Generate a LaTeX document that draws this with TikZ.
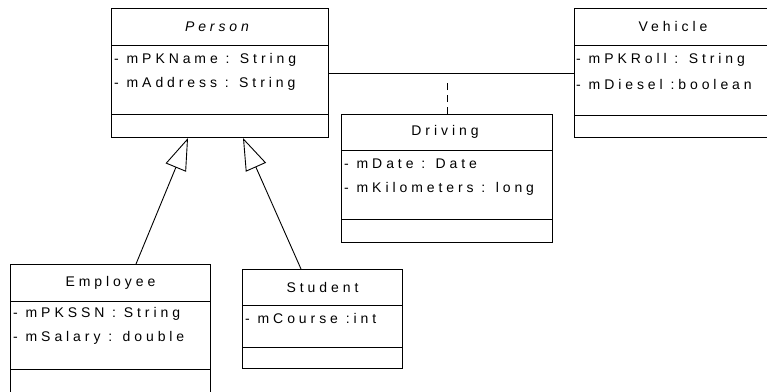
\documentclass[tikz,border=0pt]{standalone}
\usepackage{fontspec}
\usetikzlibrary{calc,arrows.meta}
\newfontfamily\umlfont[LetterSpace=28]{Liberation Sans}

\tikzset{
  classbox/.style={draw, line width=1pt, inner sep=0pt, anchor=north west},
  sepline/.style={line width=1pt},
  ctitle/.style={font=\umlfont\fontsize{14}{16}\selectfont, anchor=center, inner sep=0pt},
  attr/.style={font=\umlfont\fontsize{14}{16}\selectfont, anchor=west, inner sep=0pt},
  assoc/.style={line width=1pt},
  assoclink/.style={line width=1pt, dash pattern=on 7pt off 5pt on 7pt off 5pt on 7pt off 12pt},
  generalize/.style={line width=0.9pt, -{Triangle[open, length=32pt, width=22pt, line width=0.9pt]}}
}

\begin{document}
\begin{tikzpicture}[x=1pt, y=-1pt]
  \useasboundingbox (0,0) rectangle (767,391);
  \clip (0,0) rectangle (767,391);

  % Person (abstract)
  \node[classbox, minimum width=217pt, minimum height=129pt] (person) at (111,8) {};
  \draw[sepline] ($(person.north west)+(0,37)$) -- ($(person.north east)+(0,37)$);
  \draw[sepline] ($(person.north west)+(0,106)$) -- ($(person.north east)+(0,106)$);
  \node[ctitle] (persont) at ($(person.north)+(-3,18.5)$) {\itshape Person};
  \node[attr] (pa1) at ($(person.north west)+(3,52)$) {- mPKName : String};
  \node[attr] (pa2) at ($(person.north west)+(3,76)$) {- mAddress : String};

  % Vehicle
  \node[classbox, minimum width=197pt, minimum height=129pt] (vehicle) at (574,8) {};
  \draw[sepline] ($(vehicle.north west)+(0,37)$) -- ($(vehicle.north east)+(0,37)$);
  \draw[sepline] ($(vehicle.north west)+(0,107)$) -- ($(vehicle.north east)+(0,107)$);
  \node[ctitle] (vehiclet) at ($(vehicle.north)+(0,18.5)$) {Vehicle};
  \node[attr] (va1) at ($(vehicle.north west)+(2,52)$) {- mPKRoll : String};
  \node[attr] (va2) at ($(vehicle.north west)+(2,76)$) {- mDiesel :boolean};

  % Driving (association class)
  \node[classbox, minimum width=211pt, minimum height=128pt] (driving) at (341,114) {};
  \draw[sepline] ($(driving.north west)+(0,36)$) -- ($(driving.north east)+(0,36)$);
  \draw[sepline] ($(driving.north west)+(0,105)$) -- ($(driving.north east)+(0,105)$);
  \node[ctitle] (drivingt) at ($(driving.north)+(-2,18)$) {Driving};
  \node[attr] (da1) at ($(driving.north west)+(3,50)$) {- mDate : Date};
  \node[attr] (da2) at ($(driving.north west)+(3,75)$) {- mKilometers : long};

  % Employee
  \node[classbox, minimum width=200pt, minimum height=134pt] (employee) at (10,264) {};
  \draw[sepline] ($(employee.north west)+(0,37)$) -- ($(employee.north east)+(0,37)$);
  \draw[sepline] ($(employee.north west)+(0,105)$) -- ($(employee.north east)+(0,105)$);
  \node[ctitle] (employeet) at ($(employee.north)+(0,18.5)$) {Employee};
  \node[attr] (ea1) at ($(employee.north west)+(3,50)$) {- mPKSSN : String};
  \node[attr] (ea2) at ($(employee.north west)+(3,74)$) {- mSalary : double};

  % Student
  \node[classbox, minimum width=160pt, minimum height=99pt] (student) at (242,269) {};
  \draw[sepline] ($(student.north west)+(0,36)$) -- ($(student.north east)+(0,36)$);
  \draw[sepline] ($(student.north west)+(0,78)$) -- ($(student.north east)+(0,78)$);
  \node[ctitle] (studentt) at ($(student.north)+(0,18)$) {Student};
  \node[attr] (sa1) at ($(student.north west)+(3,49)$) {- mCourse :int};

  % Association Person -- Vehicle with its association class
  \draw[assoc] (person.east) -- (vehicle.west);
  \coordinate (amid) at (driving.north |- person.east);
  \draw[assoclink] (driving.north) -- (amid);

  % Generalizations
  \coordinate (empfoot) at ($(employee.north west)+(126,0)$);
  \coordinate (emptip) at ($(person.south west)+(77,0)$);
  \coordinate (stufoot) at ($(student.north west)+(59,0)$);
  \coordinate (stutip) at ($(person.south west)+(132,0)$);
  \draw[generalize] (empfoot) -- (emptip);
  \draw[generalize] (stufoot) -- (stutip);
\end{tikzpicture}
\end{document}
